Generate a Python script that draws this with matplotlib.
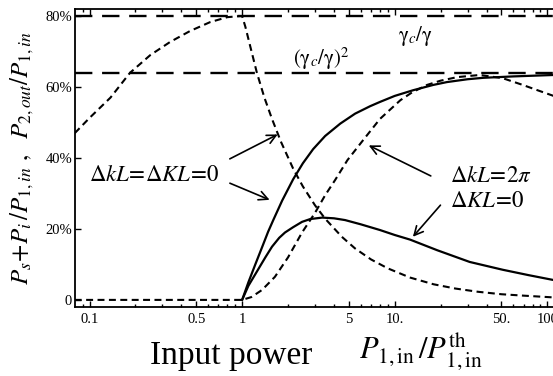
import numpy as np
import matplotlib
matplotlib.use("Agg")
import matplotlib.pyplot as plt
from matplotlib.ticker import FixedLocator, FixedFormatter, NullFormatter

plt.rcParams['font.family'] = ['Liberation Serif', 'DejaVu Serif']
plt.rcParams['mathtext.fontset'] = 'stix'
plt.rcParams['lines.scale_dashes'] = False

# x = P1,in/P1,in^th, y in percent
# P2,out/P1,in, dk L = dK L = 0 (dashed)
x_a = [0.08, 0.1, 0.137, 0.184, 0.25, 0.337, 0.456, 0.617, 0.8, 0.97, 1.0, 1.05, 1.13, 1.25,
       1.4, 1.57, 1.8, 2.16, 2.5, 3.0, 3.5, 4.5, 5.5, 7.0, 9.0, 12.6, 18, 25, 35, 50, 70, 110]
y_a = [47, 51.3, 57, 64, 69, 72.7, 75.8, 78.3, 79.7, 80, 80, 77, 71.5, 64,
       57, 51, 44.5, 37, 32, 26.7, 22.9, 17.8, 14.5, 11.4, 8.9, 6.3, 4.4, 3.2, 2.3, 1.6, 1.2, 0.7]

# Ps+Pi/P1,in, dk L = dK L = 0 (solid)
x_b = [1.0, 1.1, 1.22, 1.37, 1.48, 1.6, 1.83, 2.16, 2.5, 2.92, 3.5, 4.4, 5.5, 6.9, 8.0,
       10, 13.2, 17.9, 22, 30, 38, 60, 110]
y_b = [0, 5, 10, 15.5, 19.2, 22.5, 28, 34, 38.5, 42.5, 46.2, 49.7, 52.5, 54.6, 55.8,
       57.5, 59.1, 60.6, 61.4, 62.2, 62.6, 63, 63.4]

# Ps+Pi/P1,in, dk L = 2pi, dK L = 0 (solid)
x_c = [1.0, 1.1, 1.27, 1.42, 1.57, 1.75, 1.91, 2.16, 2.47, 2.8, 3.35, 4.0, 4.73, 6.0, 8.0,
       10, 12.6, 19, 31, 51, 75, 110]
y_c = [0, 4, 8.5, 12, 15, 17.5, 19, 20.5, 22, 22.8, 23.2, 23.0, 22.5, 21.3, 19.7,
       18.3, 17, 14, 10.7, 8.5, 7, 5.6]

# P2,out/P1,in, dk L = 2pi, dK L = 0 (dashed)
x_d = [0.08, 1.0, 1.15, 1.35, 1.64, 2.0, 2.47, 3.0, 3.5, 4.07, 4.9, 6.2, 8.0, 10.9, 13,
       16.3, 20, 25.7, 36, 51, 69, 85, 110]
y_d = [0, 0, 0.8, 2.8, 6.5, 12, 19, 24.5, 29.5, 33.8, 39.4, 45, 51, 56.3, 58.5,
       60.6, 61.8, 62.8, 63.4, 62.5, 60.6, 59.2, 57.5]

limits = [80, 64]   # gamma_c/gamma and (gamma_c/gamma)^2

xticks = [0.1, 0.5, 1, 5, 10, 50, 100]
xticklabels = ['0.1', '0.5', '1', '5', '10.', '50.', '100']
yticks = [0, 20, 40, 60, 80]
yticklabels = ['0', '20%', '40%', '60%', '80%']

fig = plt.figure(figsize=(5.53, 3.76), dpi=100)
ax = fig.add_axes([75/553, 69/376, 1 - 75/553, 298/376])

short = (0, (5, 3.2))
long_ = (0, (12.5, 7))
for v in limits:
    ax.axhline(v, color='k', lw=1.7, ls=long_)
ax.plot(x_a, y_a, color='k', lw=1.5, ls=short)
ax.plot(x_d, y_d, color='k', lw=1.5, ls=short)
ax.plot(x_b, y_b, color='k', lw=1.6)
ax.plot(x_c, y_c, color='k', lw=1.6)

ax.set_xscale('log')
ax.set_xlim(0.0803, 109)
ax.set_ylim(-2, 82)
ax.xaxis.set_major_locator(FixedLocator(xticks))
ax.xaxis.set_major_formatter(FixedFormatter(xticklabels))
minor = [m * 10.0**e for e in (-2, -1, 0, 1, 2) for m in range(2, 10)]
ax.xaxis.set_minor_locator(FixedLocator(minor))
ax.xaxis.set_minor_formatter(NullFormatter())
ax.set_yticks(yticks)
ax.set_yticklabels(yticklabels)
ax.tick_params(which='both', direction='in', top=True, right=False, labelsize=10.5, width=1)
ax.tick_params(which='major', length=4.5)
ax.tick_params(which='minor', length=2.5)
ax.tick_params(axis='x', pad=4)
ax.tick_params(axis='y', pad=2)
for s in ('left', 'bottom', 'top'):
    ax.spines[s].set_linewidth(1.3)
ax.spines['right'].set_visible(False)

arrow = dict(arrowstyle='->', color='k', lw=1.2, mutation_scale=16)
ax.text(0.265, 35.2, r'$\Delta kL\!=\!\Delta KL\!=\!\mathit{0}$', fontsize=16.5, ha='center', va='center')
ax.annotate('', xy=(1.775, 47.0), xytext=(0.80, 39.4), arrowprops=arrow)
ax.annotate('', xy=(1.573, 27.9), xytext=(0.80, 33.2), arrowprops=arrow)
ax.text(23.1, 34.9, r'$\Delta kL\!=\!2\pi$', fontsize=16.5, ha='left', va='center')
ax.text(23.1, 27.6, r'$\Delta KL\!=\!\mathit{0}$', fontsize=16.5, ha='left', va='center')
ax.annotate('', xy=(6.51, 43.9), xytext=(17.9, 34.6), arrowprops=arrow)
ax.annotate('', xy=(12.8, 17.2), xytext=(20.5, 27.3), arrowprops=arrow)
ax.text(13.6, 74.4, r'$\mathrm{\gamma}_c/\mathrm{\gamma}$', fontsize=15, ha='center', va='center')
ax.text(3.30, 67.9, r'$(\mathrm{\gamma}_c/\mathrm{\gamma})^2$', fontsize=15, ha='center', va='center')

fig.text(22/553, 1 - 158/376, r'$P_s\!+\!P_i\,/P_{1,in}\ ,\ \ P_{2,out}/P_{1,in}$',
         fontsize=18, rotation=90, ha='center', va='center')
fig.text(231/553, 1 - 356/376, 'Input power', fontsize=24, ha='center', va='center')
fig.text(421/553, 1 - 352/376, r'$P_{1,\mathrm{in}}\,/P^{\mathrm{th}}_{1,\mathrm{in}}$',
         fontsize=22, ha='center', va='center')

fig.savefig('out.png', dpi=100)
